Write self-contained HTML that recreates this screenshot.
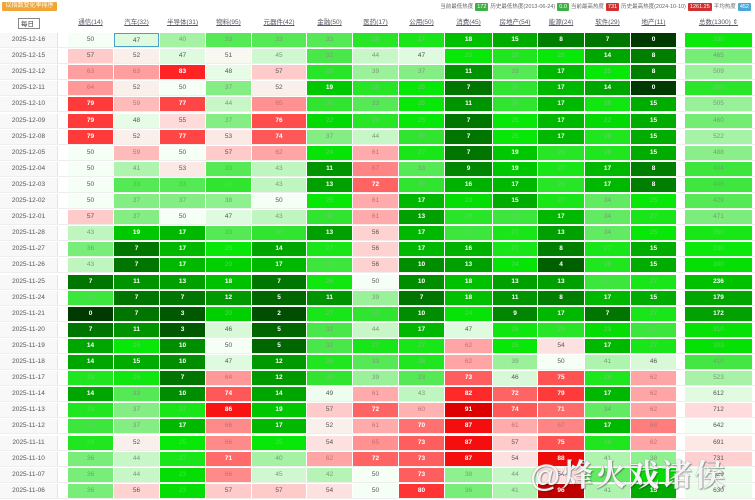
<!DOCTYPE html>
<html><head><meta charset="utf-8">
<style>
body{margin:0;width:755px;height:500px;background:#fff;overflow:hidden;font-family:"Liberation Sans","Noto Sans CJK SC",sans-serif;position:relative}
.badge{position:absolute;left:2px;top:2px;width:55px;height:9px;background:#f0a535;color:#fff;font-size:6px;line-height:9px;text-align:center;border-radius:1px}
.legend{position:absolute;right:2px;top:3px;font-size:5.5px;color:#666;white-space:nowrap;line-height:8px}
.legend b{display:inline-block;color:#fff;font-weight:normal;padding:0 2px;margin:0 2px;border-radius:1px}
.row{position:absolute;left:0;width:755px;height:16px;border-bottom:1px solid #eee;box-sizing:border-box}
.row div{position:absolute;top:1px;height:14px;line-height:14px;text-align:center;font-size:6.5px;color:#555;box-sizing:border-box}
.hdr div{color:#556;text-decoration:underline;font-size:6.5px;line-height:18px;top:0;height:18px;background:none!important}
.d{left:0;width:58px;background:#f8f8f8;color:#555;border-right:1px solid #e4e4e4}
.mr{position:absolute;left:18px;top:18px;width:22px;height:11px;border:1px solid #888;font-size:6.5px;line-height:11px;text-align:left;padding-left:2px;box-sizing:border-box;color:#333;background:#fff}
.wm{position:absolute;left:530px;top:450px;font-size:31px;font-weight:bold;color:rgba(255,255,255,0.92);letter-spacing:2px;text-shadow:0 0 1px #777,1px 1px 1px rgba(0,0,0,.35);font-family:"Liberation Sans","Noto Serif CJK SC",serif}
</style></head><body>
<div class="badge">以指数变化率排序</div>
<div class="legend">当前最低热度<b style="background:#3cb043">172</b>历史最低热度(2013-06-24)<b style="background:#3cb043">0.0</b>当前最高热度<b style="background:#d03030">731</b>历史最高热度(2024-10-10)<b style="background:#d03030">1261.25</b>平均热度<b style="background:#4aa8d8">452</b></div>
<div class="row hdr" style="top:14px;border:none"><div class="d" style="background:#fff;border:none;text-decoration:none"></div><div>通信(14)</div><div>汽车(32)</div><div>半导体(31)</div><div>物料(95)</div><div>元器件(42)</div><div>金融(50)</div><div>医药(17)</div><div>公用(50)</div><div>消费(45)</div><div>房地产(54)</div><div>能源(24)</div><div>软件(29)</div><div>地产(11)</div><div>总数(1300) ⇕</div></div>
<div class="mr">每日</div>
<div id="rows">
<div class="row"><div class="d">2025-12-16</div><div>50</div><div>47</div><div>40</div><div>33</div><div>33</div><div>33</div><div>29</div><div>27</div><div>18</div><div>15</div><div>8</div><div>7</div><div>0</div><div>330</div></div>
<div class="row"><div class="d">2025-12-15</div><div>57</div><div>52</div><div>47</div><div>51</div><div>45</div><div>32</div><div>44</div><div>47</div><div>25</div><div>28</div><div>25</div><div>14</div><div>8</div><div>465</div></div>
<div class="row"><div class="d">2025-12-12</div><div>63</div><div>63</div><div>83</div><div>48</div><div>57</div><div>29</div><div>39</div><div>37</div><div>11</div><div>33</div><div>17</div><div>25</div><div>8</div><div>509</div></div>
<div class="row"><div class="d">2025-12-11</div><div>64</div><div>52</div><div>50</div><div>37</div><div>52</div><div>19</div><div>29</div><div>25</div><div>7</div><div>30</div><div>17</div><div>14</div><div>0</div><div>380</div></div>
<div class="row"><div class="d">2025-12-10</div><div>79</div><div>59</div><div>77</div><div>44</div><div>65</div><div>30</div><div>33</div><div>25</div><div>11</div><div>30</div><div>17</div><div>26</div><div>15</div><div>505</div></div>
<div class="row"><div class="d">2025-12-09</div><div>79</div><div>48</div><div>55</div><div>37</div><div>76</div><div>22</div><div>29</div><div>25</div><div>7</div><div>25</div><div>17</div><div>22</div><div>15</div><div>460</div></div>
<div class="row"><div class="d">2025-12-08</div><div>79</div><div>52</div><div>77</div><div>53</div><div>74</div><div>37</div><div>44</div><div>30</div><div>7</div><div>25</div><div>17</div><div>28</div><div>15</div><div>522</div></div>
<div class="row"><div class="d">2025-12-05</div><div>50</div><div>59</div><div>50</div><div>57</div><div>62</div><div>24</div><div>61</div><div>27</div><div>7</div><div>19</div><div>29</div><div>28</div><div>15</div><div>488</div></div>
<div class="row"><div class="d">2025-12-04</div><div>50</div><div>41</div><div>53</div><div>33</div><div>43</div><div>11</div><div>67</div><div>33</div><div>9</div><div>19</div><div>27</div><div>17</div><div>8</div><div>404</div></div>
<div class="row"><div class="d">2025-12-03</div><div>50</div><div>33</div><div>33</div><div>30</div><div>43</div><div>13</div><div>72</div><div>30</div><div>16</div><div>17</div><div>29</div><div>17</div><div>8</div><div>406</div></div>
<div class="row"><div class="d">2025-12-02</div><div>50</div><div>37</div><div>37</div><div>38</div><div>50</div><div>25</div><div>61</div><div>17</div><div>23</div><div>15</div><div>27</div><div>34</div><div>25</div><div>429</div></div>
<div class="row"><div class="d">2025-12-01</div><div>57</div><div>37</div><div>50</div><div>47</div><div>43</div><div>30</div><div>61</div><div>13</div><div>29</div><div>31</div><div>17</div><div>34</div><div>27</div><div>471</div></div>
<div class="row"><div class="d">2025-11-28</div><div>43</div><div>19</div><div>17</div><div>33</div><div>30</div><div>13</div><div>56</div><div>17</div><div>31</div><div>27</div><div>13</div><div>34</div><div>25</div><div>350</div></div>
<div class="row"><div class="d">2025-11-27</div><div>36</div><div>7</div><div>17</div><div>25</div><div>14</div><div>27</div><div>56</div><div>17</div><div>16</div><div>27</div><div>8</div><div>27</div><div>15</div><div>330</div></div>
<div class="row"><div class="d">2025-11-26</div><div>43</div><div>7</div><div>17</div><div>20</div><div>17</div><div>31</div><div>56</div><div>10</div><div>13</div><div>24</div><div>4</div><div>28</div><div>15</div><div>300</div></div>
<div class="row"><div class="d">2025-11-25</div><div>7</div><div>11</div><div>13</div><div>18</div><div>7</div><div>26</div><div>50</div><div>10</div><div>18</div><div>13</div><div>13</div><div>31</div><div>27</div><div>236</div></div>
<div class="row"><div class="d">2025-11-24</div><div>31</div><div>7</div><div>7</div><div>12</div><div>5</div><div>11</div><div>39</div><div>7</div><div>18</div><div>11</div><div>8</div><div>17</div><div>15</div><div>179</div></div>
<div class="row"><div class="d">2025-11-21</div><div>0</div><div>7</div><div>3</div><div>20</div><div>2</div><div>27</div><div>30</div><div>10</div><div>24</div><div>9</div><div>17</div><div>7</div><div>27</div><div>172</div></div>
<div class="row"><div class="d">2025-11-20</div><div>7</div><div>11</div><div>3</div><div>46</div><div>5</div><div>32</div><div>44</div><div>17</div><div>47</div><div>26</div><div>29</div><div>23</div><div>31</div><div>310</div></div>
<div class="row"><div class="d">2025-11-19</div><div>14</div><div>25</div><div>10</div><div>50</div><div>5</div><div>32</div><div>27</div><div>27</div><div>62</div><div>25</div><div>54</div><div>17</div><div>27</div><div>303</div></div>
<div class="row"><div class="d">2025-11-18</div><div>14</div><div>15</div><div>10</div><div>47</div><div>12</div><div>28</div><div>33</div><div>28</div><div>62</div><div>39</div><div>50</div><div>41</div><div>46</div><div>410</div></div>
<div class="row"><div class="d">2025-11-17</div><div>28</div><div>26</div><div>7</div><div>64</div><div>12</div><div>30</div><div>39</div><div>33</div><div>73</div><div>46</div><div>75</div><div>28</div><div>62</div><div>523</div></div>
<div class="row"><div class="d">2025-11-14</div><div>14</div><div>33</div><div>10</div><div>74</div><div>14</div><div>49</div><div>61</div><div>43</div><div>82</div><div>72</div><div>79</div><div>17</div><div>62</div><div>612</div></div>
<div class="row"><div class="d">2025-11-13</div><div>28</div><div>37</div><div>27</div><div>86</div><div>19</div><div>57</div><div>72</div><div>60</div><div>91</div><div>74</div><div>71</div><div>34</div><div>62</div><div>712</div></div>
<div class="row"><div class="d">2025-11-12</div><div>31</div><div>37</div><div>17</div><div>66</div><div>17</div><div>52</div><div>61</div><div>70</div><div>87</div><div>61</div><div>67</div><div>17</div><div>68</div><div>642</div></div>
<div class="row"><div class="d">2025-11-11</div><div>28</div><div>52</div><div>25</div><div>66</div><div>25</div><div>54</div><div>65</div><div>73</div><div>87</div><div>57</div><div>75</div><div>28</div><div>62</div><div>691</div></div>
<div class="row"><div class="d">2025-11-10</div><div>36</div><div>44</div><div>27</div><div>71</div><div>40</div><div>62</div><div>72</div><div>73</div><div>87</div><div>54</div><div>88</div><div>41</div><div>38</div><div>731</div></div>
<div class="row"><div class="d">2025-11-07</div><div>36</div><div>44</div><div>23</div><div>66</div><div>45</div><div>42</div><div>50</div><div>73</div><div>38</div><div>44</div><div>54</div><div>34</div><div>23</div><div>629</div></div>
<div class="row"><div class="d">2025-11-06</div><div>36</div><div>56</div><div>23</div><div>57</div><div>57</div><div>54</div><div>50</div><div>80</div><div>36</div><div>41</div><div>96</div><div>41</div><div>15</div><div>630</div></div>
</div>
<div class="wm">@烽火戏诸侯</div>
<script>
var L=[68,114,160,206,252,307,353,399,445,493,538,585,631,685],W=[45,45,45,45,54,45,45,45,47,44,46,45,45,67];
var G=[[0,[0,58,0]],[3,[0,88,0]],[7,[0,118,0]],[10,[0,142,0]],[13,[0,160,0]],[17,[0,184,0]],[20,[0,208,0]],[25,[8,232,8]],[30,[48,228,48]],[35,[110,236,110]],[40,[165,242,165]],[45,[208,248,208]],[50,[246,255,246]],[55,[255,218,218]],[60,[255,178,178]],[65,[255,145,145]],[70,[255,112,112]],[75,[255,82,82]],[80,[255,52,52]],[85,[255,24,24]],[90,[228,0,0]],[96,[192,0,0]],[100,[170,0,0]]];
function col(v){for(var i=1;i<G.length;i++){if(v<=G[i][0]){var a=G[i-1],b=G[i],t=(v-a[0])/(b[0]-a[0]);return b[1].map(function(c,k){return Math.round(a[1][k]+(c-a[1][k])*t)})}}return G[G.length-1][1];}
var hd=document.querySelector('.hdr').children;
for(var j=1;j<hd.length;j++){hd[j].style.left=L[j-1]+'px';hd[j].style.width=W[j-1]+'px';}
var rows=document.querySelectorAll('#rows .row');
rows.forEach(function(r,i){r.style.top=(32+i*16.1)+'px';var c=r.children;
for(var j=1;j<c.length;j++){var e=c[j],n=+e.textContent,v=j==14?n/13:n;e.style.left=L[j-1]+'px';e.style.width=W[j-1]+'px';
var k=col(v);e.style.background='rgb('+k+')';
if(v<=19||v>=69){e.style.color='#fff';e.style.fontWeight='bold';}else if(v<=31){e.style.color='rgba(120,200,120,0.9)';}else if(v<46){e.style.color='#7a9a7a';}else if(v>58){e.style.color='#c07070';}else e.style.color='#555';}
if(i==0){c[2].style.border='1.5px solid #4aa0c8';}});
</script>
</body></html>
